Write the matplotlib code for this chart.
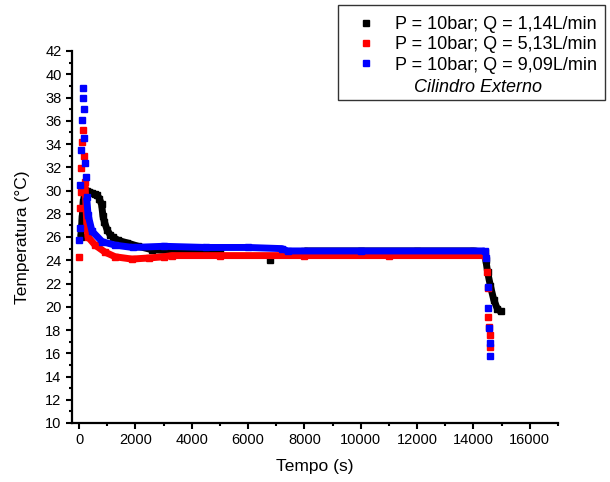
import matplotlib
matplotlib.use("Agg")
import matplotlib.pyplot as plt
from matplotlib.lines import Line2D
from matplotlib.patches import Rectangle
from matplotlib.ticker import MultipleLocator

plt.rcParams['font.family'] = ['Liberation Sans', 'DejaVu Sans']

# Q = 1,14 L/min (black)
t_q1 = [60, 110, 150, 210, 280, 350, 450, 550, 650, 720, 800, 850, 900, 1000,
        1100, 1200, 1400, 1700, 2100, 2600, 3500, 5000, 6790, 8000, 10000,
        12000, 14000, 14400, 14440, 14500, 14600, 14720, 14850, 14960]
T_q1 = [26.0, 27.6, 29.0, 30.0, 30.0, 29.9, 29.8, 29.7, 29.6, 29.3, 28.8, 27.8,
        27.3, 26.6, 26.2, 26.0, 25.7, 25.5, 25.2, 24.9, 24.8, 24.8, 24.0, 24.8,
        24.8, 24.8, 24.8, 24.7, 24.0, 23.0, 21.8, 20.6, 19.8, 19.6]

# Q = 5,13 L/min (red)
t_q2 = [0, 40, 60, 80, 110, 140, 170, 210, 280, 320, 570, 920, 1280, 1880,
        2500, 3000, 3300, 5000, 8000, 11000, 14400, 14470, 14500, 14530,
        14560, 14580, 14600]
T_q2 = [24.3, 28.5, 29.9, 31.9, 34.2, 35.2, 33.0, 30.7, 26.8, 26.0, 25.3, 24.7,
        24.3, 24.1, 24.2, 24.3, 24.4, 24.4, 24.4, 24.4, 24.4, 23.0, 21.6, 19.1,
        18.3, 17.6, 16.5]

# Q = 9,09 L/min (blue)
t_q3 = [0, 30, 50, 80, 110, 130, 150, 170, 190, 215, 240, 270, 320, 460, 820,
        1280, 1900, 3000, 4500, 6000, 7200, 7400, 10000, 14400, 14460, 14500,
        14530, 14560, 14580, 14600]
T_q3 = [25.7, 26.8, 30.5, 33.5, 36.1, 38.0, 38.8, 37.0, 34.5, 32.4, 31.2, 29.4,
        27.9, 26.5, 25.6, 25.3, 25.1, 25.2, 25.1, 25.1, 25.0, 24.8, 24.8, 24.8,
        24.2, 21.7, 19.9, 18.2, 16.9, 15.8]

labels = ['P = 10bar; Q = 1,14L/min', 'P = 10bar; Q = 5,13L/min',
          'P = 10bar; Q = 9,09L/min']
colors = ['black', 'red', 'blue']

fig = plt.figure(figsize=(6.1, 4.82), dpi=100)
ax = fig.add_axes([72 / 610, 1 - 423 / 482, 486 / 610, 372 / 482])

# index ranges drawn as a continuous (densely sampled) band
series = [(t_q1, T_q1, [(0, 22), (23, len(t_q1))]),
          (t_q2, T_q2, [(7, 21)]),
          (t_q3, T_q3, [(11, 24)])]
for (t, T, segs), c in zip(series, colors):
    ax.plot(t, T, ls='none', marker='s', ms=5, color=c, mec=c)
    for i0, i1 in segs:
        ax.plot(t[i0:i1], T[i0:i1], '-', lw=5, color=c, solid_capstyle='butt')

ax.set_xlim(-250, 17000)
ax.set_ylim(10, 42)
ax.xaxis.set_major_locator(MultipleLocator(2000))
ax.xaxis.set_minor_locator(MultipleLocator(1000))
ax.yaxis.set_major_locator(MultipleLocator(2))
ax.yaxis.set_minor_locator(MultipleLocator(1))
ax.tick_params(which='major', direction='out', length=4, width=1.5, labelsize=10.5)
ax.tick_params(which='minor', direction='out', length=2.5, width=1.5)
for s in ['top', 'right']:
    ax.spines[s].set_visible(False)
for s in ['left', 'bottom']:
    ax.spines[s].set_linewidth(1.6)

ax.set_xlabel('Tempo (s)', fontsize=12.5, labelpad=8)
ax.set_ylabel('Temperatura (°C)', fontsize=12.5, labelpad=11)

# legend box
fig.patches.append(Rectangle((338 / 610, 1 - 100 / 482), 267 / 610, 95 / 482,
                             transform=fig.transFigure, fill=False,
                             edgecolor='#333333', lw=1.0))
handles = [Line2D([], [], ls='none', marker='s', ms=5, color=c) for c in colors]
fig.legend(handles, labels, loc='upper left', bbox_to_anchor=(357 / 610, 0.966),
           frameon=False, fontsize=13, handlelength=1.0, handletextpad=1.1,
           labelspacing=0.17, borderpad=0, borderaxespad=0, numpoints=1)
fig.text(478 / 610, 1 - 87 / 482, 'Cilindro Externo', fontsize=13,
         style='italic', ha='center', va='center')

fig.savefig('out.png', dpi=100)
